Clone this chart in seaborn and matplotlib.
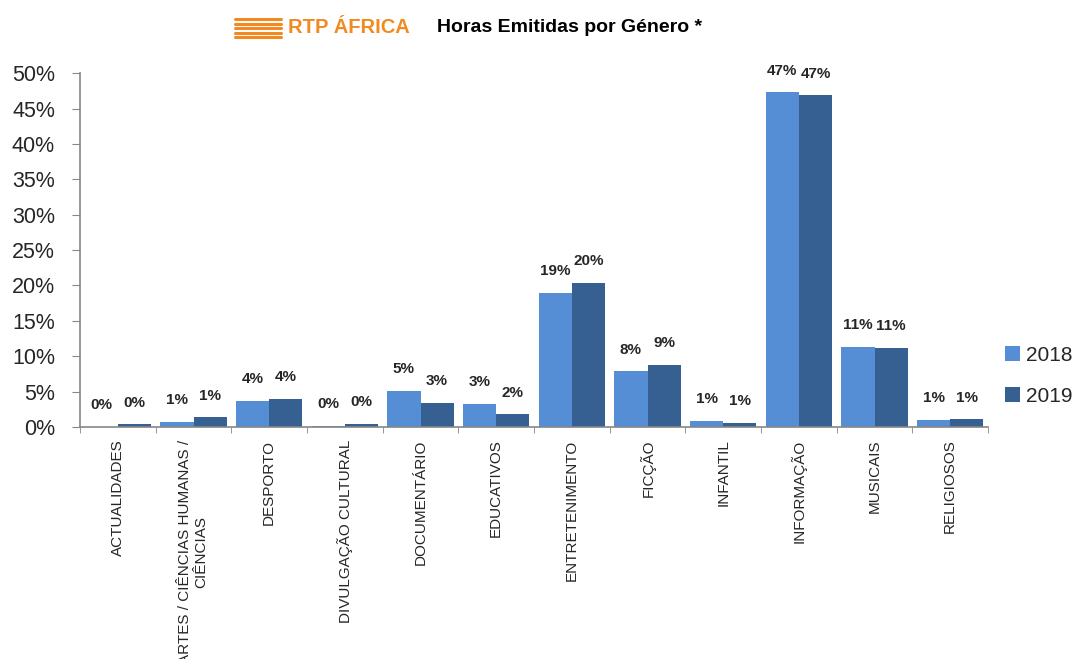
import pandas as pd
import seaborn as sns
from matplotlib import pyplot as plt
from matplotlib.lines import Line2D
from matplotlib.ticker import FuncFormatter, FixedLocator

genres = ["ACTUALIDADES", "ARTES / CIÊNCIAS HUMANAS /\nCIÊNCIAS", "DESPORTO",
          "DIVULGAÇÃO CULTURAL", "DOCUMENTÁRIO", "EDUCATIVOS", "ENTRETENIMENTO",
          "FICÇÃO", "INFANTIL", "INFORMAÇÃO", "MUSICAIS", "RELIGIOSOS"]
pct_2018 = [0.05, 0.7, 3.7, 0.2, 5.1, 3.3, 19.0, 7.9, 0.85, 47.3, 11.3, 1.0]
pct_2019 = [0.4, 1.4, 4.0, 0.45, 3.4, 1.8, 20.4, 8.8, 0.6, 46.9, 11.2, 1.1]
years = ["2018", "2019"]
colors = ["#558ED5", "#366092"]

df = pd.DataFrame({
    "Genero": genres * 2,
    "Percent": pct_2018 + pct_2019,
    "Ano": [years[0]] * len(genres) + [years[1]] * len(genres),
})

sns.set_style("white")
plt.rcParams["font.family"] = ["Liberation Sans", "DejaVu Sans"]

fig = plt.figure(figsize=(10.76, 6.59), dpi=100)
ax = fig.add_axes([80 / 1076, 0.352, 908 / 1076, 0.537])

sns.barplot(data=df, x="Genero", y="Percent", hue="Ano", palette=colors,
            width=0.88, gap=0, saturation=1, ax=ax, edgecolor="none")

# value labels above each bar
for cont, vals in zip(ax.containers, [pct_2018, pct_2019]):
    ax.bar_label(cont, labels=[f"{v:.0f}%" for v in vals], padding=10.5,
                 fontsize=11, fontweight="bold")

ax.set_ylim(0, 50)
ax.set_xlim(-0.5, len(genres) - 0.5)
ax.set_yticks(range(0, 51, 5))
ax.yaxis.set_major_formatter(FuncFormatter(lambda v, p: f"{v:.0f}%"))
ax.set_xlabel("")
ax.set_ylabel("")

ax.set_xticks(range(len(genres)))
ax.set_xticklabels(genres, rotation=90, ha="center", va="top",
                   multialignment="center", fontsize=11)
ax.xaxis.set_minor_locator(FixedLocator([i - 0.5 for i in range(len(genres) + 1)]))
ax.tick_params(axis="x", which="major", length=0, pad=9)
ax.tick_params(axis="x", which="minor", length=4, color="#868686", direction="out",
               bottom=True)
ax.tick_params(axis="y", length=6, color="#868686", direction="out", left=True,
               labelsize=15.5, pad=12)

for s in ["top", "right"]:
    ax.spines[s].set_visible(False)
for s in ["left", "bottom"]:
    ax.spines[s].set_color("#868686")
    ax.spines[s].set_linewidth(1.2)

ax.legend(loc="center left", bbox_to_anchor=(1.0187, 0.145), frameon=False,
          fontsize=15, handlelength=0.7, handleheight=0.7, labelspacing=1.05,
          handletextpad=0.3, borderaxespad=0, borderpad=0)

# header: logo stripes, brand and title
for k in range(5):
    yy = 1 - (19 + k * 4.5) / 659
    fig.add_artist(Line2D([235 / 1076, 281 / 1076], [yy, yy], color="#F18A21", lw=2.2))
fig.text(288 / 1076, 0.958, "RTP ÁFRICA", color="#F18A21", fontsize=14.5,
         fontweight="bold", ha="left", va="center")
fig.text(437 / 1076, 0.958, "Horas Emitidas por Género *", color="black",
         fontsize=14, fontweight="bold", ha="left", va="center")

plt.savefig("out.png", dpi=100)
plt.close()
